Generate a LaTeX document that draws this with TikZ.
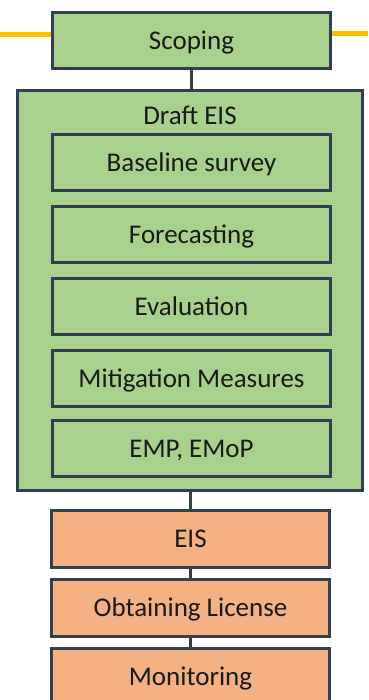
\documentclass[tikz,border=0pt]{standalone}
\usepackage{fontspec}
\setmainfont{Carlito}
\usepackage{tikz}
\usetikzlibrary{positioning}

\definecolor{boxgreen}{HTML}{A9D18E}
\definecolor{boxorange}{HTML}{F4B183}
\definecolor{boxline}{HTML}{323F4F}
\definecolor{bandgold}{HTML}{F5C200}
\definecolor{boxtext}{HTML}{1A1A1A}

\begin{document}
\begin{tikzpicture}[x=1pt, y=-1pt,
    stage/.style={draw=boxline, line width=3pt, minimum width=278pt, minimum height=56pt,
        inner sep=0pt, outer sep=0pt, text=boxtext, font=\fontsize{27}{32}\selectfont,
        text height=18pt, text depth=0pt},
    greenstage/.style={stage, fill=boxgreen},
    orangestage/.style={stage, fill=boxorange, minimum height=57pt},
    link/.style={draw=boxline, line width=3pt},
    band/.style={draw=bandgold, line width=5pt}]
    \useasboundingbox (0,0) rectangle (368,700);
    % scoping and the band behind it
    \node[greenstage] (scoping) at (191.5,41) {Scoping};
    \coordinate (bandleft) at (0,35);
    \coordinate (bandright) at (368,34);
    \draw[band, shorten >=1.5pt] (bandleft) -- (scoping.west |- bandleft);
    \draw[band, shorten >=1.5pt] (bandright) -- (scoping.east |- bandright);
    % draft EIS
    \node[draw=boxline, line width=3pt, fill=boxgreen, minimum width=345pt, minimum height=399pt,
        inner sep=0pt, outer sep=0pt] (draft) at (189.5,290.5) {};
    \node[text=boxtext, font=\fontsize{27}{32}\selectfont] (drafttitle) at (190,115) {Draft EIS};
    \node[greenstage] (baseline) at (191.5,162.5) {Baseline survey};
    \node[greenstage, below=16pt of baseline] (forecast) {Forecasting};
    \node[greenstage, below=16pt of forecast] (evaluation) {Evaluation};
    \node[greenstage, below=16pt of evaluation] (mitigation) {Mitigation Measures};
    \node[greenstage, below=14pt of mitigation] (emp) {EMP, EMoP};
    % after the draft
    \node[orangestage] (eis) at (190.5,538.5) {EIS};
    \node[orangestage, below=12pt of eis] (license) {Obtaining License};
    \node[orangestage, below=12pt of license] (monitor) {Monitoring};
    \draw[link] (scoping.south) -- (scoping.south |- draft.north);
    \draw[link] (eis.north |- draft.south) -- (eis.north);
    \draw[link] (eis.south) -- (license.north);
    \draw[link] (license.south) -- (monitor.north);
\end{tikzpicture}
\end{document}
